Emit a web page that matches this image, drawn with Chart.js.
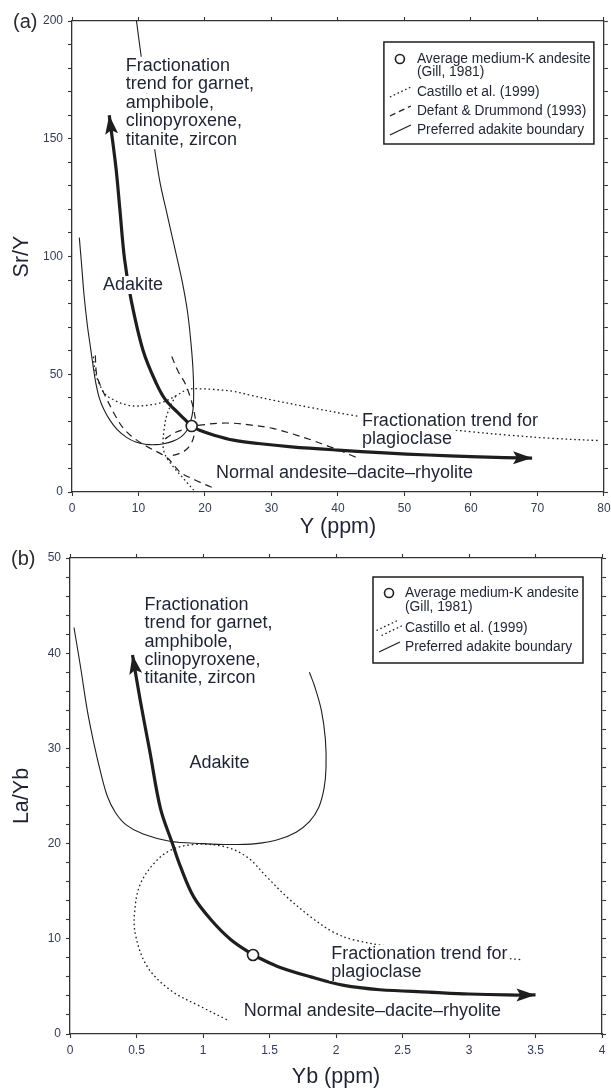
<!DOCTYPE html>
<html>
<head>
<meta charset="utf-8">
<title>Adakite discrimination diagrams</title>
<script src="https://cdn.jsdelivr.net/npm/chart.js@4.4.1/dist/chart.umd.min.js"></script>
<style>
  html, body { margin: 0; padding: 0; background: #fff; }
  body { width: 611px; height: 1090px; position: relative; overflow: hidden; }
  .panel { position: absolute; left: 0; width: 611px; height: 545px; }
  #wrapA { top: 0; }
  #wrapB { top: 545px; }
</style>
</head>
<body>
<div class="panel" id="wrapA"><canvas id="chartA" width="611" height="545"></canvas></div>
<div class="panel" id="wrapB"><canvas id="chartB" width="611" height="545"></canvas></div>
<script>
'use strict';

// ---- panel (a): Sr/Y against Y (ppm) ----
var aXLabels = [0, 10, 20, 30, 40, 50, 60, 70, 80];
var aYLabels = [0, 50, 100, 150, 200];

var aAndesite = [[18, 28]];
var aGarnetTrend = [[18, 28], [16, 33.5], [14.1, 39], [12.7, 46], [10.7, 60], [8.9, 81.5], [7.9, 99], [7.2, 120], [6.6, 138], [5.6, 160]];
var aPlagTrend = [[18, 28], [19.1, 26.3], [21.5, 24], [24.3, 22], [28, 20.6], [33, 19.2], [40, 17.8], [47, 16.6], [53.6, 15.7], [60, 15], [65, 14.6], [69.2, 14.4]];
var aPreferred = [[1.1, 108], [1.4, 98], [1.8, 84], [2.3, 71], [2.8, 61], [3.2, 53], [3.6, 46], [4.1, 40], [4.8, 35], [5.7, 30.5], [6.8, 26.5],
    [8.2, 23.2], [9.6, 21.2], [11, 20.3], [12.5, 20.1], [13.8, 20.5], [15.1, 21.5], [16.3, 23.2], [17.2, 25.8], [17.8, 29.5], [18.2, 35],
    [18.3, 42], [18.2, 52], [17.9, 63], [17.4, 76], [16.6, 89], [15.5, 103], [14.3, 118], [13.2, 132], [12.1, 152], [11.2, 170],
    [10.5, 183], [9.7, 200]];
var aCastillo1 = [[3.2, 57.5], [3.5, 51], [4.1, 46], [5.0, 41.5], [6.7, 38.5], [8.2, 37], [9.7, 36.5], [11.8, 37], [13.8, 38.3], [15.6, 40.8],
    [17.5, 43.6], [19.5, 43.8], [21.5, 43.5], [24.3, 42.7], [27, 41], [30.2, 39], [36, 35.8], [41.9, 32.7], [48, 29.8], [55, 27.2],
    [60, 25.6], [65.4, 24.2], [72, 22.8], [79.5, 21.8]];
var aCastillo2 = [[15.6, 40.8], [14.8, 36.5], [14.2, 32], [13.9, 27.5], [13.7, 22], [13.8, 17.5], [14.4, 13.8], [15.3, 10.5], [16.3, 7.2], [17.3, 4], [18.3, 0.8]];
var aDefant1 = [[3.5, 58], [3.7, 50], [4.3, 45], [5.3, 39], [6.5, 32.5], [7.6, 27.5], [8.9, 23.8], [11.2, 19.4], [13.2, 16.5], [14.4, 14.3],
    [15.5, 10.8], [16.4, 8.1], [18.5, 5.1], [20, 3.2], [21.4, 1.6]];
var aDefant2 = [[15, 57.5], [16, 51], [17, 46.2], [17.7, 41], [18.3, 35], [18.6, 29], [18.4, 24.5], [18, 21], [17.1, 17.8], [16, 16.2], [14.6, 15.2]];
var aDefant3 = [[14.0, 22.5], [15.2, 24.8], [16.7, 26.5], [18, 27.8], [19.6, 28.5], [22, 29.2], [24.3, 29.2], [27, 28.4], [30.2, 27], [33, 24.8],
    [36.1, 22], [38.5, 19.5], [40.2, 17.8], [41.8, 15.8], [43.1, 14.3]];

// ---- panel (b): La/Yb against Yb (ppm) ----
var bXLabels = [0, 0.5, 1, 1.5, 2, 2.5, 3, 3.5, 4];
var bYLabels = [0, 10, 20, 30, 40, 50];

var bAndesite = [[1.376, 8.3]];
var bGarnetTrend = [[1.376, 8.3], [1.21, 9.9], [1.06, 12], [0.93, 14.4], [0.83, 17.6], [0.77, 20], [0.68, 23.7], [0.6, 29.7], [0.53, 34.9], [0.47, 39.8]];
var bPlagTrend = [[1.376, 8.3], [1.56, 7.1], [1.81, 6], [2.06, 5.1], [2.33, 4.65], [2.7, 4.4], [3.0, 4.2], [3.28, 4.1], [3.5, 4.1]];
var bPreferred = [[0.03, 42.7], [0.08, 38.5], [0.13, 34], [0.18, 30.5], [0.23, 27.5], [0.28, 25], [0.34, 23.3], [0.42, 22], [0.55, 21],
    [0.75, 20.25], [1.0, 20.0], [1.2, 19.9], [1.4, 20.0], [1.56, 20.4], [1.7, 21.2], [1.8, 22.3], [1.87, 23.8], [1.91, 25.8],
    [1.925, 28], [1.92, 31], [1.89, 34], [1.84, 36.5], [1.8, 38]];
var bCastillo = [[1.18, 1.5], [0.98, 2.9], [0.755, 4.6], [0.58, 7.1], [0.49, 10.6], [0.49, 13.4], [0.53, 15.8], [0.63, 17.9], [0.755, 19.3],
    [0.93, 19.9], [1.155, 19.7], [1.33, 18.6], [1.48, 16.5], [1.63, 14.4], [1.81, 12.3], [1.98, 10.7], [2.13, 9.9], [2.5, 9.0], [2.9, 8.4], [3.4, 7.8]];

var FONT = '"Liberation Sans", Arial, Helvetica, sans-serif';
var INK = '#1e1e1e';
var AXIS = '#333333';
var TICK = '#343c55';
var TEXT = '#1f2333';

// line styles
var thin = { borderWidth: 1.1 };
var dotted = { borderWidth: 1.3, borderDash: [1.6, 2.8] };
var dashed = { borderWidth: 1.2, borderDash: [7, 5] };
var thick = { borderWidth: 3.2, borderCapStyle: 'butt', order: 1, arrow: true };

function curve( points, style ) {
    return Object.assign({
        data: points.map( function( p ) { return { x: p[0], y: p[1] }; } ),
        showLine: true,
        pointRadius: 0,
        pointHoverRadius: 0,
        fill: false,
        tension: 0.35,
        borderColor: INK,
        order: 2
    }, style );
}

function marker( points ) {
    return {
        data: points.map( function( p ) { return { x: p[0], y: p[1] }; } ),
        showLine: false,
        pointRadius: 5.5,
        pointHoverRadius: 5.5,
        pointBackgroundColor: '#fff',
        pointBorderColor: INK,
        pointBorderWidth: 1.6,
        order: 0
    };
}

function fmt( v ) { return String( v ); }

function buildScales( s ) {
    var border = { display: true, color: AXIS, width: 1.3 };
    var grid = { drawOnChartArea: false, drawTicks: true, tickLength: 4, tickColor: AXIS, tickWidth: 1.1 };
    var tickFont = { family: FONT, size: 12 };
    return {
        x: {
            type: 'linear', position: 'bottom', min: s.xMin, max: s.xMax,
            border: border, grid: grid,
            ticks: {
                stepSize: s.xStep, autoSkip: false, maxRotation: 0, padding: 5, color: TICK, font: tickFont,
                callback: function( v ) { return s.xLabels.indexOf( v ) >= 0 ? fmt( v ) : ''; }
            },
            title: { display: true, text: s.xTitle, color: TEXT, font: { family: FONT, size: 21.5 }, padding: { top: 0, bottom: s.xTitlePad } },
            afterFit: function( scale ) {
                scale.height = s.xHeight;
                scale.paddingLeft = 0;
                scale.paddingRight = 0;
            }
        },
        y: {
            type: 'linear', position: 'left', min: s.yMin, max: s.yMax,
            border: border, grid: grid,
            ticks: {
                stepSize: s.yStep, autoSkip: false, padding: 5, color: TICK, font: tickFont,
                callback: function( v ) { return s.yLabels.indexOf( v ) >= 0 ? fmt( v ) : ''; }
            },
            title: { display: true, text: s.yTitle, color: TEXT, font: { family: FONT, size: 21.5 }, padding: { top: 9.2, bottom: 0 } },
            afterFit: function( scale ) {
                scale.width = s.yWidth;
                scale.paddingTop = 0;
                scale.paddingBottom = 0;
            }
        },
        x2: {
            type: 'linear', position: 'top', min: s.xMin, max: s.xMax,
            border: border, grid: grid,
            ticks: { display: false, stepSize: s.xStep },
            afterFit: function( scale ) { scale.height = 0; }
        },
        y2: {
            type: 'linear', position: 'right', min: s.yMin, max: s.yMax,
            border: border, grid: grid,
            ticks: { display: false, stepSize: s.yStep },
            afterFit: function( scale ) { scale.width = 0; }
        }
    };
}

function drawArrowHead( ctx, pts, len, half ) {
    var p = pts[ pts.length - 1 ];
    var q = ( p.cp1x !== undefined && ( p.cp1x !== p.x || p.cp1y !== p.y ) ) ? { x: p.cp1x, y: p.cp1y } : pts[ pts.length - 2 ];
    var ang = Math.atan2( p.y - q.y, p.x - q.x );
    var bx = p.x - len * Math.cos( ang ), by = p.y - len * Math.sin( ang );
    ctx.beginPath();
    ctx.moveTo( p.x, p.y );
    ctx.lineTo( bx + half * Math.sin( ang ), by - half * Math.cos( ang ) );
    ctx.lineTo( p.x - len * 0.8 * Math.cos( ang ), p.y - len * 0.8 * Math.sin( ang ) );
    ctx.lineTo( bx - half * Math.sin( ang ), by + half * Math.cos( ang ) );
    ctx.closePath();
    ctx.fillStyle = INK;
    ctx.fill();
}

function drawSymbol( ctx, kind, x, y ) {
    ctx.save();
    ctx.strokeStyle = INK;
    if ( kind === 'circle' ) {
        ctx.beginPath();
        ctx.arc( x + 10, y, 4.5, 0, Math.PI * 2 );
        ctx.fillStyle = '#fff';
        ctx.fill();
        ctx.lineWidth = 1.6;
        ctx.stroke();
    } else if ( kind !== 'none' ) {
        var lines = kind === 'double' ? [ -2.5, 2.5 ] : [ 0 ];
        ctx.lineWidth = kind === 'solid' ? 1.2 : 1.3;
        ctx.setLineDash( kind === 'dashed' ? [ 6, 4 ] : ( kind === 'solid' ? [] : [ 1.6, 2.6 ] ) );
        lines.forEach( function( o ) {
            ctx.beginPath();
            ctx.moveTo( x + o, y + 5 + o );
            ctx.lineTo( x + 21 + o, y - 5 + o );
            ctx.stroke();
        });
    }
    ctx.restore();
}

function overlay( cfg ) {
    return {
        id: 'overlay' + cfg.tag,
        afterDatasetsDraw: function( chart ) {
            var ctx = chart.ctx;
            var xs = chart.scales.x, ys = chart.scales.y;
            ctx.save();
            // text labels sit on white, hiding the lines behind them
            cfg.notes.forEach( function( n ) {
                var lead = n.lead || 18;
                ctx.font = n.size + 'px ' + FONT;
                ctx.textBaseline = 'middle';
                var px = xs.getPixelForValue( n.x ), py = ys.getPixelForValue( n.y );
                n.lines.forEach( function( t, k ) {
                    var cy = py + k * lead;
                    var w = ctx.measureText( t ).width;
                    ctx.fillStyle = '#fff';
                    ctx.fillRect( px - 2, cy - lead / 2, w + 4, lead );
                    ctx.fillStyle = TEXT;
                    ctx.fillText( t, px, cy );
                });
            });
            // arrow heads at the end of the trends
            chart.data.datasets.forEach( function( ds, i ) {
                if ( !ds.arrow ) return;
                drawArrowHead( ctx, chart.getDatasetMeta( i ).data, 19, 6.5 );
            });
            ctx.restore();
        },
        afterDraw: function( chart ) {
            var ctx = chart.ctx, ca = chart.chartArea, L = cfg.legend;
            ctx.save();
            // panel tag
            ctx.font = '20px ' + FONT;
            ctx.textBaseline = 'middle';
            ctx.fillStyle = '#2a2a35';
            ctx.fillText( cfg.tag, ca.left - 59, ca.top + 1 );
            // legend box
            var bx = ca.right - L.right - L.w, by = ca.top + L.top;
            ctx.fillStyle = '#fff';
            ctx.fillRect( bx, by, L.w, L.h );
            ctx.strokeStyle = INK;
            ctx.lineWidth = 1.5;
            ctx.strokeRect( bx, by, L.w, L.h );
            ctx.font = L.size + 'px ' + FONT;
            L.rows.forEach( function( r ) {
                var y = by + r.dy;
                drawSymbol( ctx, r.kind, bx + 6, y );
                ctx.fillStyle = TEXT;
                ctx.textBaseline = 'middle';
                ctx.fillText( r.text, bx + L.textX, y );
            });
            ctx.restore();
        }
    };
}

function buildPanel( id, cfg ) {
    return new Chart( document.getElementById( id ), {
        type: 'scatter',
        data: { datasets: cfg.datasets },
        options: {
            responsive: false,
            animation: false,
            devicePixelRatio: 1,
            layout: { padding: cfg.padding },
            scales: buildScales( cfg.scales ),
            plugins: { legend: { display: false }, tooltip: { enabled: false } },
            events: []
        },
        plugins: [ overlay( cfg ) ]
    });
}

var garnetLines = [ 'Fractionation', 'trend for garnet,', 'amphibole,', 'clinopyroxene,', 'titanite, zircon' ];

buildPanel( 'chartA', {
    tag: '(a)',
    padding: { top: 21, right: 7, left: 0, bottom: 0 },
    scales: {
        xMin: 0, xMax: 80, xStep: 10, xLabels: aXLabels, xTitle: 'Y (ppm)', xHeight: 53, xTitlePad: 5.4,
        yMin: 0, yMax: 200, yStep: 10, yLabels: aYLabels, yTitle: 'Sr/Y', yWidth: 72
    },
    datasets: [
        marker( aAndesite ),
        curve( aGarnetTrend, thick ),
        curve( aPlagTrend, thick ),
        curve( aPreferred, thin ),
        curve( aCastillo1, dotted ),
        curve( aCastillo2, dotted ),
        curve( aDefant1, dashed ),
        curve( aDefant2, dashed ),
        curve( aDefant3, dashed )
    ],
    notes: [
        { x: 8.1, y: 180.9, lines: garnetLines, size: 18, lead: 18.5 },
        { x: 4.66, y: 87.9, lines: [ 'Adakite' ], size: 18 },
        { x: 43.6, y: 30.1, lines: [ 'Fractionation trend for', 'plagioclase' ], size: 18, lead: 17.5 },
        { x: 21.65, y: 8.2, lines: [ 'Normal andesite\u2013dacite\u2013rhyolite' ], size: 18 }
    ],
    legend: {
        right: 10, top: 21, w: 210, h: 102, size: 13.8, textX: 33,
        rows: [
            { kind: 'circle', dy: 17, text: 'Average medium-K andesite' },
            { kind: 'none', dy: 30, text: '(Gill, 1981)' },
            { kind: 'dotted', dy: 50, text: 'Castillo et al. (1999)' },
            { kind: 'dashed', dy: 69, text: 'Defant & Drummond (1993)' },
            { kind: 'solid', dy: 88, text: 'Preferred adakite boundary' }
        ]
    }
});

buildPanel( 'chartB', {
    tag: '(b)',
    padding: { top: 13, right: 9, left: 0, bottom: 0 },
    scales: {
        xMin: 0, xMax: 4, xStep: 0.5, xLabels: bXLabels, xTitle: 'Yb (ppm)', xHeight: 56, xTitlePad: 0.4,
        yMin: 0, yMax: 50, yStep: 2, yLabels: bYLabels, yTitle: 'La/Yb', yWidth: 70
    },
    datasets: [
        marker( bAndesite ),
        curve( bGarnetTrend, thick ),
        curve( bPlagTrend, thick ),
        curve( bPreferred, thin ),
        curve( bCastillo, dotted )
    ],
    notes: [
        { x: 0.56, y: 45.06, lines: garnetLines, size: 18, lead: 18.3 },
        { x: 0.898, y: 28.5, lines: [ 'Adakite' ], size: 18 },
        { x: 1.965, y: 8.4, lines: [ 'Fractionation trend for', 'plagioclase' ], size: 18, lead: 18 },
        { x: 1.307, y: 2.45, lines: [ 'Normal andesite\u2013dacite\u2013rhyolite' ], size: 18 }
    ],
    legend: {
        right: 19, top: 19, w: 210, h: 86, size: 13.8, textX: 32,
        rows: [
            { kind: 'circle', dy: 16, text: 'Average medium-K andesite' },
            { kind: 'none', dy: 30, text: '(Gill, 1981)' },
            { kind: 'double', dy: 51, text: 'Castillo et al. (1999)' },
            { kind: 'solid', dy: 70, text: 'Preferred adakite boundary' }
        ]
    }
});
</script>
</body>
</html>
